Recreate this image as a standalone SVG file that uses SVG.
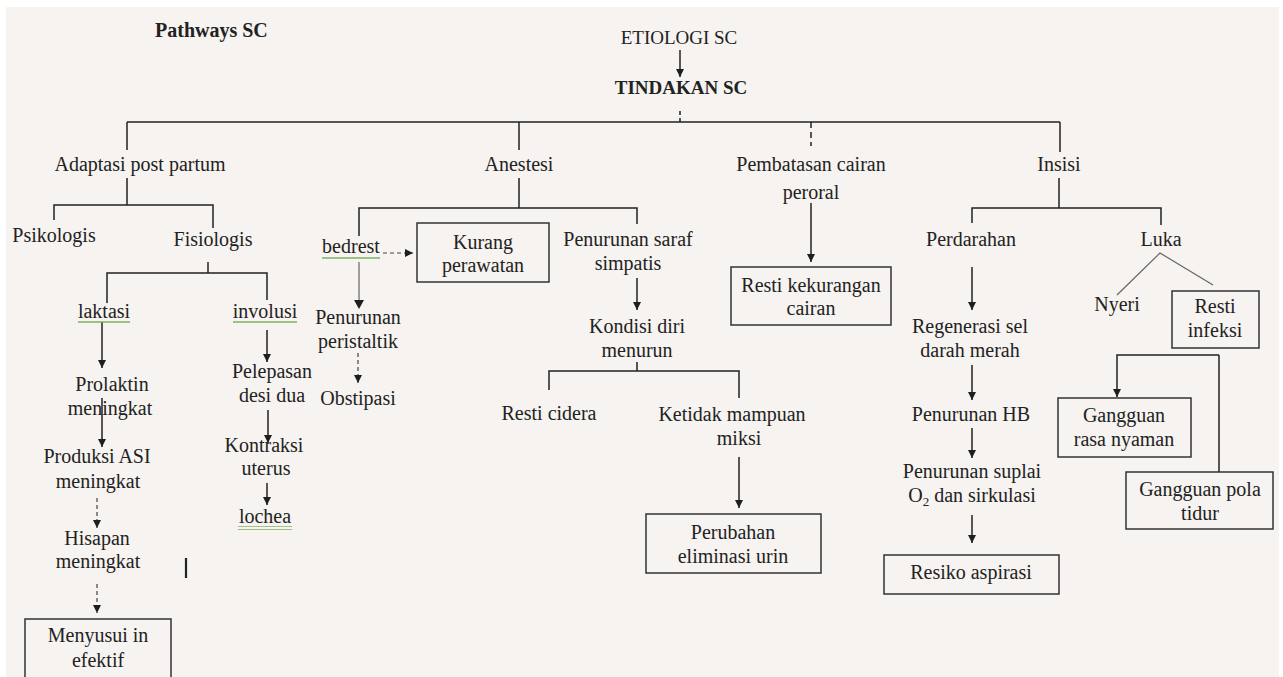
<svg xmlns="http://www.w3.org/2000/svg" width="1283" height="677" viewBox="0 0 1283 677">
<defs>
<marker id="ah" viewBox="0 0 10 10" refX="10" refY="5" markerWidth="8" markerHeight="8" markerUnits="userSpaceOnUse" orient="auto">
<path d="M0,0 L10,5 L0,10 z" fill="#1e1e1e"/>
</marker>
<pattern id="wavy" width="4" height="4" patternUnits="userSpaceOnUse">
<path d="M0,3 L1,1 L2,3 L3,1 L4,3" fill="none" stroke="#6aa84f" stroke-width="0.8"/>
</pattern>
<style>
text{font-family:"Liberation Serif","Times New Roman",serif;font-size:20px;fill:#222;text-anchor:middle}
.b{font-weight:bold}
.l{text-anchor:start}
.ln{fill:none;stroke:#222;stroke-width:1.5}
.ar{fill:none;stroke:#222;stroke-width:1.5;marker-end:url(#ah)}
.da{fill:none;stroke:#444;stroke-width:1.2;stroke-dasharray:4 3;marker-end:url(#ah)}
.gr{fill:none;stroke:#666;stroke-width:1.2}
.box{fill:none;stroke:#333;stroke-width:1.5}
.wv{fill:url(#wavy)}
</style>
</defs>
<rect width="1283" height="677" fill="#ffffff"/>
<rect x="6" y="7" width="1273" height="670" fill="#f6f3f0"/>

<g id="connectors">
<line class="ar" x1="680" y1="50" x2="680" y2="77"/>
<line class="ln" x1="680" y1="111" x2="680" y2="122" stroke-dasharray="4 3"/>
<line class="ln" x1="127" y1="122" x2="1060" y2="122"/>
<line class="ln" x1="127" y1="122" x2="127" y2="150"/>
<line class="ln" x1="519" y1="122" x2="519" y2="150"/>
<line class="ln" x1="811" y1="122" x2="811" y2="146" stroke-dasharray="6 4"/>
<line class="ln" x1="1060" y1="122" x2="1060" y2="152"/>
<!-- Adaptasi -->
<polyline class="ln" points="127,178 127,205"/>
<polyline class="ln" points="54,220 54,205 213,205 213,228"/>
<!-- Fisiologis -->
<line class="ln" x1="208" y1="262" x2="208" y2="273"/>
<polyline class="ln" points="107,303 107,273 267,273 267,300"/>
<line class="ar" x1="102" y1="322" x2="102" y2="368"/>
<line class="ar" x1="102" y1="398" x2="102" y2="447"/>
<line class="da" x1="97" y1="498" x2="97" y2="528"/>
<line class="da" x1="97" y1="584" x2="97" y2="613"/>
<line class="ar" x1="267" y1="330" x2="267" y2="362"/>
<line class="ar" x1="268" y1="410" x2="268" y2="443"/>
<line class="ar" x1="267" y1="483" x2="267" y2="505"/>
<line x1="186" y1="558" x2="186" y2="578" stroke="#222" stroke-width="2.2"/>
<!-- Anestesi -->
<line class="ln" x1="519" y1="178" x2="519" y2="208"/>
<polyline class="ln" points="359,236 359,208 637,208 637,224"/>
<line class="da" x1="383" y1="253" x2="413" y2="253"/>
<line class="gr" x1="359" y1="262" x2="359" y2="302"/>
<path d="M354,300 L364,300 L359,309 z" fill="#1e1e1e"/>
<line class="da" x1="358" y1="353" x2="358" y2="383"/>
<line class="ar" x1="637" y1="278" x2="637" y2="310"/>
<polyline class="ln" points="549,390 549,371 739,371 739,398"/>
<line class="ln" x1="637" y1="362" x2="637" y2="371"/>
<line class="ar" x1="739" y1="457" x2="739" y2="508"/>
<!-- Pembatasan -->
<line class="ar" x1="811" y1="203" x2="811" y2="262"/>
<!-- Insisi -->
<line class="ln" x1="1059" y1="178" x2="1059" y2="208"/>
<polyline class="ln" points="972,223 972,208 1161,208 1161,225"/>
<line class="ar" x1="972" y1="267" x2="972" y2="310"/>
<line class="ar" x1="972" y1="365" x2="972" y2="400"/>
<line class="ar" x1="972" y1="428" x2="972" y2="458"/>
<line class="ar" x1="972" y1="515" x2="972" y2="543"/>
<polyline class="gr" points="1117,295 1160,253 1213,285"/>
<polyline class="ar" points="1219,355 1117,355 1117,397"/>
<line class="ln" x1="1219" y1="355" x2="1219" y2="472"/>
</g>

<g id="title"><text class="b l" x="155" y="37">Pathways SC</text></g>
<g id="etiologi"><text x="679" y="44" style="font-size:19px">ETIOLOGI SC</text></g>
<g id="tindakan"><text class="b" x="681" y="94" style="font-size:19px">TINDAKAN SC</text></g>

<g id="adaptasi"><text x="140" y="171">Adaptasi post partum</text></g>
<g id="anestesi"><text x="519" y="171">Anestesi</text></g>
<g id="pembatasan"><text x="811" y="171">Pembatasan cairan</text><text x="811" y="199">peroral</text></g>
<g id="insisi"><text x="1059" y="171">Insisi</text></g>

<g id="psikologis"><text x="54" y="242">Psikologis</text></g>
<g id="fisiologis"><text x="213" y="246">Fisiologis</text></g>

<g id="laktasi"><text x="104" y="318">laktasi</text><rect class="wv" x="78" y="321" width="52" height="4"/></g>
<g id="prolaktin"><text x="112" y="391">Prolaktin</text><text x="110" y="415">meningkat</text></g>
<g id="produksi"><text x="97" y="463">Produksi ASI</text><text x="98" y="488">meningkat</text></g>
<g id="hisapan"><text x="97" y="545">Hisapan</text><text x="98" y="568">meningkat</text></g>
<g id="menyusui"><rect class="box" x="25" y="619" width="146" height="62"/><text x="98" y="642">Menyusui in</text><text x="98" y="667">efektif</text></g>

<g id="involusi"><text x="265" y="318">involusi</text><rect class="wv" x="233" y="321" width="64" height="4"/></g>
<g id="pelepasan"><text x="272" y="378">Pelepasan</text><text x="272" y="402">desi dua</text></g>
<g id="kontraksi"><text x="264" y="452">Kontraksi</text><text x="266" y="475">uterus</text></g>
<g id="lochea"><text x="265" y="523">lochea</text><rect class="wv" x="238" y="526" width="54" height="4"/></g>

<g id="bedrest"><text x="351" y="253">bedrest</text><rect class="wv" x="322" y="256" width="58" height="4"/></g>
<g id="kurang"><rect class="box" x="417" y="223" width="132" height="59"/><text x="483" y="249">Kurang</text><text x="483" y="272">perawatan</text></g>
<g id="peristaltik"><text x="358" y="324">Penurunan</text><text x="358" y="348">peristaltik</text></g>
<g id="obstipasi"><text x="358" y="405">Obstipasi</text></g>
<g id="saraf"><text x="628" y="246">Penurunan saraf</text><text x="628" y="270">simpatis</text></g>
<g id="kondisi"><text x="637" y="333">Kondisi diri</text><text x="637" y="357">menurun</text></g>
<g id="cidera"><text x="549" y="420">Resti cidera</text></g>
<g id="ketidak"><text x="732" y="421">Ketidak mampuan</text><text x="739" y="445">miksi</text></g>
<g id="perubahan"><rect class="box" x="646" y="514" width="175" height="59"/><text x="733" y="539">Perubahan</text><text x="733" y="563">eliminasi urin</text></g>

<g id="kekurangan"><rect class="box" x="731" y="267" width="160" height="58"/><text x="811" y="292">Resti kekurangan</text><text x="811" y="315">cairan</text></g>

<g id="perdarahan"><text x="971" y="246">Perdarahan</text></g>
<g id="luka"><text x="1161" y="246">Luka</text></g>
<g id="regenerasi"><text x="970" y="333">Regenerasi sel</text><text x="970" y="357">darah merah</text></g>
<g id="hb"><text x="971" y="421">Penurunan HB</text></g>
<g id="suplai"><text x="972" y="478">Penurunan suplai</text><text x="972" y="502">O<tspan dy="4" style="font-size:13px">2</tspan><tspan dy="-4"> dan sirkulasi</tspan></text></g>
<g id="aspirasi"><rect class="box" x="884" y="555" width="175" height="39"/><text x="971" y="579">Resiko aspirasi</text></g>
<g id="nyeri"><text x="1117" y="311">Nyeri</text></g>
<g id="infeksi"><rect class="box" x="1172" y="291" width="87" height="57"/><text x="1215" y="313">Resti</text><text x="1215" y="337">infeksi</text></g>
<g id="nyaman"><rect class="box" x="1058" y="398" width="133" height="59"/><text x="1124" y="422">Gangguan</text><text x="1124" y="446">rasa nyaman</text></g>
<g id="tidur"><rect class="box" x="1126" y="472" width="147" height="57"/><text x="1200" y="496">Gangguan pola</text><text x="1200" y="520">tidur</text></g>
</svg>
